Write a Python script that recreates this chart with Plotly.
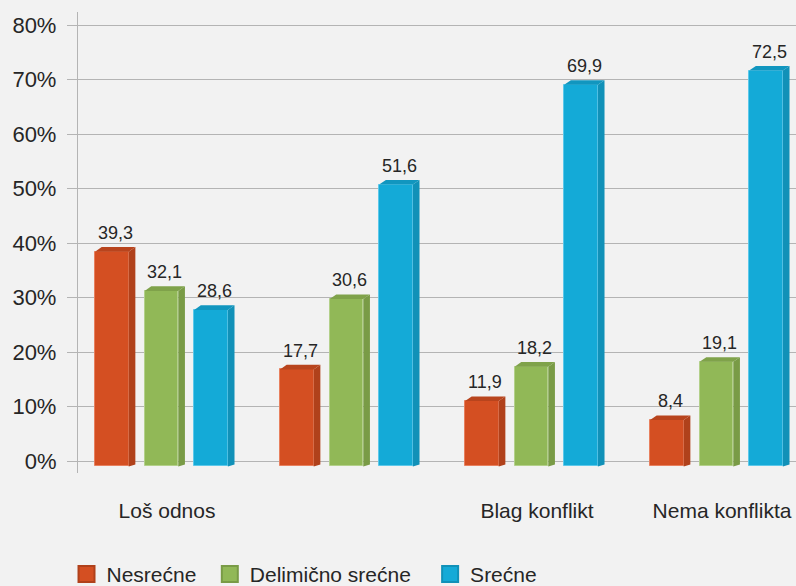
import plotly.graph_objects as go

categories = ["Loš odnos", "", "Blag konflikt", "Nema konflikta"]
series_names = ["Nesrećne", "Delimično srećne", "Srećne"]
nesrecne = [39.3, 17.7, 11.9, 8.4]
delimicno = [32.1, 30.6, 18.2, 19.1]
srecne = [28.6, 51.6, 69.9, 72.5]
y_ticks = [0, 10, 20, 30, 40, 50, 60, 70, 80]

front_colors = ["#D44F22", "#91B857", "#14AAD7"]
side_colors = ["#B0411B", "#799B46", "#1191B8"]
top_colors = ["#B8441D", "#7FA24A", "#1196BF"]
edge_colors = ["#E8805E", "#B3D08A", "#5CC8EA"]
legend_pad = ["\u2009\u2009", "\u00a0\u2009\u2009", ""]

values = [nesrecne, delimicno, srecne]
offsets = [-0.268, 0.0, 0.268]
bw = 0.182        # front width (x units)
dx = 0.036        # depth (x units)
front_drop = 0.85 # front top sits below value (%)
front_base = -0.95
side_base = -0.6

FONT = "Liberation Sans, Arial, sans-serif"
fig = go.Figure()

for s, name in enumerate(series_names):
    xs = [i + offsets[s] for i in range(len(categories))]
    fig.add_trace(go.Bar(
        x=xs, y=[v - front_drop - front_base for v in values[s]], base=front_base,
        width=bw, name=name,
        marker=dict(color=front_colors[s], line=dict(color=edge_colors[s], width=1)),
        showlegend=False, hoverinfo="skip"))

for s, name in enumerate(series_names):
    for i, v in enumerate(values[s]):
        xc = i + offsets[s]
        x0, x1 = xc - bw / 2, xc + bw / 2
        ft = v - front_drop
        # side face
        fig.add_trace(go.Scatter(
            x=[x1, x1 + dx, x1 + dx, x1, x1],
            y=[front_base, side_base, v, ft, front_base],
            fill="toself", fillcolor=side_colors[s], mode="lines",
            line=dict(width=0), showlegend=False, hoverinfo="skip"))
        # top face
        fig.add_trace(go.Scatter(
            x=[x0, x0 + dx, x1 + dx, x1, x0],
            y=[ft, v, v, ft, ft],
            fill="toself", fillcolor=top_colors[s], mode="lines",
            line=dict(width=0), showlegend=False, hoverinfo="skip"))
        fig.add_annotation(
            x=xc + dx / 2, y=v, text=f"{v:.1f}".replace(".", ","),
            showarrow=False, yanchor="bottom", yshift=2,
            font=dict(size=18, color="#262626", family=FONT))

# legend entries
for s, name in enumerate(series_names):
    fig.add_trace(go.Scatter(
        x=[None], y=[None], mode="markers", name=name + legend_pad[s],
        marker=dict(symbol="square", size=16, color=front_colors[s],
                    line=dict(color=side_colors[s], width=2)),
        showlegend=True, hoverinfo="skip"))

fig.update_layout(
    width=796, height=586,
    margin=dict(l=78, r=0, t=12, b=113.3, autoexpand=False),
    paper_bgcolor="#F2F2F2", plot_bgcolor="#F2F2F2",
    barmode="overlay", bargap=0,
    font=dict(family=FONT, size=21, color="#262626"),
    showlegend=True,
    legend=dict(orientation="h", x=-0.016, xanchor="left", y=-0.22, yanchor="middle",
                font=dict(size=21, color="#262626", family=FONT),
                bgcolor="rgba(0,0,0,0)", traceorder="normal", itemwidth=30),
    xaxis=dict(range=[-0.451, 3.430], tickmode="array",
               tickvals=[i + 0.03 for i in range(len(categories))], ticktext=categories,
               showgrid=False, zeroline=False, showline=False, ticks="",
               ticklabelstandoff=23, tickfont=dict(size=21)),
    yaxis=dict(range=[-2.15, 82.4], tickmode="array", tickvals=y_ticks,
               ticktext=[f"{t}%" for t in y_ticks],
               showgrid=True, gridcolor="#B4B4B4", gridwidth=1.3,
               zeroline=False, showline=True, linecolor="#B4B4B4", linewidth=1.3,
               ticks="outside", ticklen=10, tickcolor="#B4B4B4", tickwidth=1.3,
               tickfont=dict(size=22), ticklabelstandoff=6),
)

fig.write_html("out.html")
